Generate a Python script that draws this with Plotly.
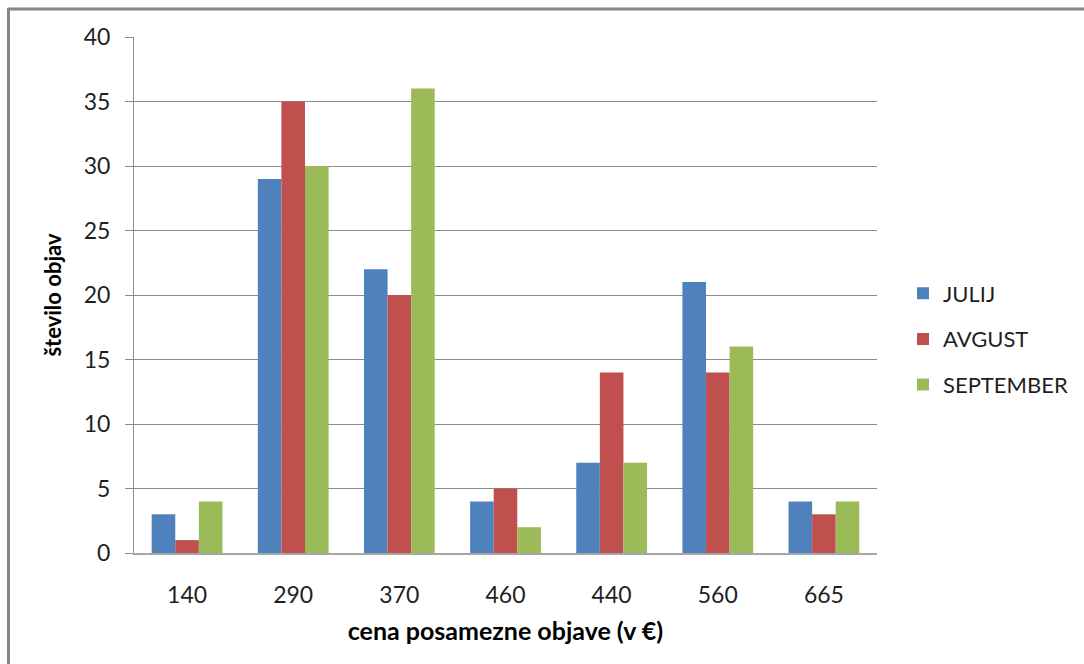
import plotly.graph_objects as go

# Price of a single listing (EUR) and number of listings per month
categories = ["140", "290", "370", "460", "440", "560", "665"]
julij = [3, 29, 22, 4, 7, 21, 4]
avgust = [1, 35, 20, 5, 14, 14, 3]
september = [4, 30, 36, 2, 7, 16, 4]
y_ticks = [0, 5, 10, 15, 20, 25, 30, 35, 40]

series = [
    ("JULIJ", julij, "#4F81BD"),
    ("AVGUST", avgust, "#C0504D"),
    ("SEPTEMBER", september, "#9BBB59"),
]

FONT = "Lato, Calibri, sans-serif"
TEXT = "#1F1F1F"

fig = go.Figure()
for name, vals, color in series:
    fig.add_trace(go.Bar(
        x=categories, y=vals, name=name,
        marker=dict(color=color, line=dict(width=0)),
        legendgroup=name,
    ))

W, H = 1084, 664
L, R, T, B = 134, 207, 37, 111
pw, ph = W - L - R, H - T - B

def px_x(x):
    return (x - L) / pw

def px_y(y):
    return (H - B - y) / ph

fig.update_layout(
    width=W, height=H,
    margin=dict(l=L, r=R, t=T, b=B, autoexpand=False),
    paper_bgcolor="white", plot_bgcolor="white",
    barmode="group", bargap=1 / 3, bargroupgap=0,
    font=dict(family=FONT, color=TEXT, size=22),
    xaxis=dict(
        type="category", categoryorder="array", categoryarray=categories,
        showline=True, linecolor="#A6A6A6", linewidth=2,
        ticks="", showgrid=False, ticklabelstandoff=20,
        tickfont=dict(size=23, color=TEXT),
        title=dict(text="<b>cena posamezne objave (v €)</b>",
                   font=dict(size=25, color="#000000"), standoff=16),
    ),
    yaxis=dict(
        range=[0, 40], tickvals=y_ticks, showgrid=True,
        gridcolor="#8C8C8C", gridwidth=1,
        showline=True, linecolor="#8C8C8C", linewidth=1,
        ticks="outside", ticklen=8, tickcolor="#8C8C8C",
        ticklabelstandoff=10, zeroline=False,
        tickfont=dict(size=23, color=TEXT),
        title=dict(text="<b>število objav</b>",
                   font=dict(size=22, color="#000000"), standoff=16),
    ),
    legend=dict(
        x=px_x(903), y=px_y(339), xanchor="left", yanchor="middle",
        font=dict(size=22, color=TEXT), tracegroupgap=14,
        bgcolor="rgba(0,0,0,0)",
    ),
    showlegend=True,
)

# Chart-area frame along the top and left edges
fig.add_shape(type="line", xref="paper", yref="paper",
              x0=px_x(8), x1=px_x(W + 5), y0=px_y(9), y1=px_y(9),
              line=dict(color="#868686", width=3))
fig.add_shape(type="line", xref="paper", yref="paper",
              x0=px_x(8.5), x1=px_x(8.5), y0=px_y(8), y1=px_y(H + 5),
              line=dict(color="#868686", width=3))

fig.write_html("out.html")
